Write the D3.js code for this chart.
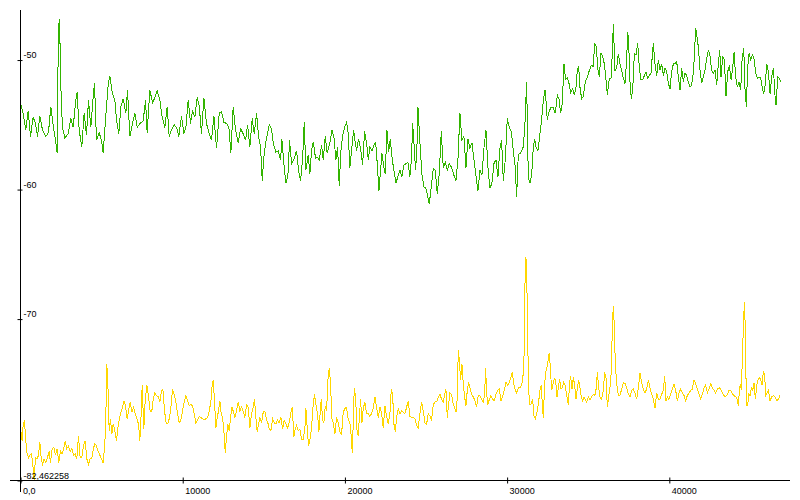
<!DOCTYPE html>
<html>
<head>
<meta charset="utf-8">
<script src="https://cdn.jsdelivr.net/npm/d3@7"></script>
<style>
  body { margin: 0; background: #fff; }
  svg { display: block; }
  .axis text { font-family: "Liberation Sans", Arial, sans-serif; font-size: 9px; fill: #000; }
</style>
</head>
<body>
<svg id="chart"></svg>
<script>
  const width = 800,
        height = 500;

  // [time, level] pairs
  const greenSeries = [[0,-53.3],[162,-54.1],[327,-55.4],[471,-53.9],[615,-55.9],[779,-54.4],[923,-54.9],[1047,-55.9],[1190,-54.3],[1355,-55.4],[1560,-55.9],[1725,-55.6],[1869,-53.6],[2012,-55.0],[2218,-56.7],[2259,-57.2],[2321,-49.5],[2382,-46.8],[2444,-49.0],[2506,-52.9],[2588,-55.2],[2732,-56.0],[2937,-55.7],[3102,-54.5],[3246,-55.2],[3410,-53.1],[3492,-52.5],[3616,-55.4],[3780,-56.7],[3924,-54.1],[4068,-55.8],[4192,-53.1],[4335,-55.2],[4479,-52.9],[4562,-51.8],[4685,-56.2],[4849,-55.6],[4993,-56.2],[5096,-57.2],[5260,-54.3],[5404,-51.9],[5507,-51.2],[5651,-52.5],[5815,-53.1],[5918,-54.6],[6062,-55.7],[6186,-53.6],[6329,-53.0],[6494,-54.1],[6597,-52.3],[6741,-55.9],[6905,-54.9],[7049,-54.1],[7193,-55.2],[7357,-54.9],[7563,-54.7],[7707,-53.1],[7809,-55.6],[7974,-52.3],[8139,-53.3],[8282,-52.9],[8426,-52.4],[8591,-53.1],[8735,-54.4],[8899,-55.2],[9043,-53.6],[9166,-55.9],[9310,-55.4],[9474,-55.0],[9618,-55.2],[9762,-55.9],[9927,-54.3],[10071,-55.7],[10194,-55.2],[10338,-53.1],[10482,-54.9],[10605,-53.9],[10749,-54.4],[10893,-52.9],[11016,-53.5],[11160,-55.7],[11304,-52.9],[11468,-54.9],[11633,-55.7],[11777,-56.2],[11921,-54.3],[12085,-56.8],[12250,-54.1],[12394,-54.0],[12538,-54.8],[12702,-54.9],[12846,-55.2],[12969,-57.2],[13113,-53.6],[13257,-55.4],[13422,-56.4],[13566,-55.3],[13730,-55.7],[13874,-56.2],[13997,-55.0],[14141,-56.7],[14285,-54.5],[14409,-55.7],[14553,-54.1],[14676,-55.9],[14799,-56.7],[14902,-59.3],[15005,-57.5],[15128,-56.3],[15272,-55.4],
    [15333,-55.0],[15477,-55.3],[15580,-56.4],[15745,-57.1],[15888,-57.0],[16032,-57.7],[16114,-56.1],[16238,-58.0],[16361,-59.5],[16484,-58.9],[16587,-56.2],[16710,-58.0],[16854,-57.7],[17019,-57.0],[17142,-58.5],[17266,-59.3],[17389,-57.7],[17492,-54.8],[17595,-58.5],[17738,-57.3],[17841,-58.8],[17944,-57.0],[18047,-56.3],[18191,-57.6],[18293,-57.5],[18417,-57.7],[18561,-56.6],[18663,-57.7],[18787,-55.9],[18910,-57.2],[19075,-56.4],[19198,-55.4],[19321,-55.9],[19445,-57.7],[19548,-56.7],[19650,-59.7],[19753,-57.0],[19856,-55.9],[19979,-55.2],[20103,-54.8],[20205,-55.7],[20308,-58.3],[20431,-56.7],[20534,-55.4],[20637,-56.4],[20719,-57.0],[20843,-56.1],[20966,-56.8],[21089,-58.1],[21213,-55.5],[21336,-56.4],[21439,-57.7],[21541,-56.7],[21665,-57.0],[21788,-56.6],[21891,-56.3],[21994,-58.0],[22097,-60.1],[22199,-58.5],[22282,-57.2],[22405,-58.3],[22487,-58.8],[22590,-55.4],[22693,-57.1],[22795,-56.1],[22919,-57.7],[23022,-58.5],[23145,-59.5],[23268,-59.0],[23392,-58.5],[23515,-59.0],[23638,-58.1],[23762,-58.0],[23885,-57.9],[24008,-59.0],[24111,-57.5],[24173,-54.9],[24255,-56.4],[24358,-58.5],[24440,-56.8],[24502,-53.6],[24625,-56.4],[24748,-58.8],[24872,-59.8],[24995,-59.9],[25118,-60.6],[25200,-61.1],[25324,-59.8],[25447,-58.4],[25570,-58.5],[25694,-60.3],[25817,-58.8],[25940,-55.5],[26064,-58.3],[26187,-57.9],[26310,-58.5],[26434,-58.0],[26578,-58.3],[26722,-58.9],[26845,-59.3],[26968,-57.7],[27092,-54.1],[27215,-56.2],[27338,-55.9],[27462,-58.3],[27585,-56.1],[27708,-56.8],[27832,-56.4],[27955,-57.7],[28078,-58.9],[28202,-60.1],[28325,-58.5],[28448,-58.9],[28572,-56.8],[28695,-55.4],[28818,-58.3],[28942,-59.9],[29065,-59.5],[29188,-58.0],[29312,-57.7],[29435,-59.0],[29558,-56.8],[29661,-56.2],[29764,-59.3],[29887,-57.7],[30011,-54.5],[30134,-55.2],[30257,-55.5],[30381,-57.0],[30504,-58.3],[30586,-60.6],[30689,-57.3],[30833,-57.2],[30997,-56.7],[31100,-54.9],[31162,-53.0],[31203,-51.7],[31306,-59.1],[31409,-59.5],
    [31511,-58.9],[31614,-56.7],[31696,-56.1],[31779,-56.7],[31902,-57.0],[32025,-55.7],[32128,-54.6],[32231,-53.1],[32334,-52.3],[32395,-53.1],[32477,-54.6],[32560,-54.1],[32683,-53.7],[32847,-53.7],[32971,-54.1],[33094,-52.7],[33197,-53.0],[33300,-54.1],[33402,-53.3],[33505,-50.3],[33608,-51.5],[33711,-51.4],[33814,-51.8],[33916,-52.5],[34040,-52.2],[34143,-52.7],[34245,-52.1],[34328,-50.8],[34410,-50.5],[34492,-52.1],[34595,-53.0],[34698,-52.8],[34821,-51.7],[34945,-51.3],[35068,-50.8],[35191,-50.4],[35315,-50.5],[35397,-48.7],[35500,-49.0],[35603,-50.8],[35685,-51.3],[35788,-49.5],[35890,-49.7],[35993,-50.3],[36096,-51.5],[36178,-52.7],[36302,-51.4],[36405,-51.4],[36487,-49.5],[36548,-47.2],[36651,-50.8],[36754,-50.6],[36857,-49.5],[36960,-50.3],[37062,-50.8],[37165,-51.4],[37268,-51.8],[37371,-50.0],[37433,-47.8],[37494,-48.7],[37576,-51.7],[37659,-53.0],[37741,-52.3],[37844,-49.5],[37947,-49.6],[38050,-48.7],[38152,-50.6],[38255,-51.5],[38358,-51.5],[38461,-51.2],[38563,-50.9],[38666,-51.4],[38769,-51.2],[38872,-51.0],[38954,-49.6],[39015,-48.7],[39118,-50.3],[39221,-51.2],[39324,-50.0],[39426,-50.8],[39529,-50.3],[39632,-51.2],[39735,-50.6],[39837,-50.9],[39940,-51.8],[40043,-52.2],[40146,-50.9],[40248,-50.3],[40351,-50.3],[40454,-50.1],[40557,-51.3],[40659,-52.3],[40762,-50.6],[40865,-51.7],[40968,-51.0],[41071,-51.2],[41173,-51.7],[41276,-52.1],[41379,-51.9],[41482,-51.0],[41543,-49.7],[41625,-47.5],[41708,-48.2],[41790,-49.0],[41893,-50.8],[41995,-51.8],[42098,-51.3],[42201,-50.8],[42304,-49.9],[42407,-49.2],[42509,-49.7],[42612,-50.8],[42715,-51.0],[42818,-50.8],[42921,-51.9],[43023,-50.3],[43106,-49.2],[43188,-51.3],[43291,-49.7],[43394,-50.0],[43497,-52.8],[43599,-50.9],[43702,-50.4],[43805,-51.5],[43908,-50.6],[43990,-49.4],[44093,-51.3],[44196,-52.1],[44299,-51.7],[44401,-52.3],[44484,-50.0],[44587,-49.1],[44669,-52.3],[44751,-53.6],[44833,-50.5],[44916,-49.5],[45018,-50.0],[45121,-49.6],[45224,-49.9],[45327,-51.0],[45430,-51.4],[45532,-51.3],[45635,-51.4],[45738,-52.2],[45820,-52.6],[45922,-51.8],[46005,-50.3],[46107,-50.9],[46210,-52.6],[46313,-51.3],[46416,-50.6],[46519,-52.8],[46580,-53.5],[46683,-51.3],[46786,-51.4],[46889,-51.7]];

  const yellowSeries = [[0,-78.4],[18,-78.6],[101,-79.4],[162,-78.2],[245,-77.8],[327,-79.4],[409,-80.4],[491,-80.7],[574,-80.5],[676,-80.4],[759,-81.2],[841,-82.462258],[923,-80.7],[1026,-80.8],[1108,-80.5],[1190,-79.5],[1273,-80.7],[1355,-81.2],[1458,-80.8],[1560,-81.1],[1663,-80.7],[1766,-80.2],[1848,-81.1],[1951,-80.0],[2054,-79.9],[2157,-80.5],[2259,-80.0],[2362,-81.1],[2465,-80.2],[2567,-80.4],[2670,-80.0],[2753,-79.4],[2855,-80.0],[2958,-79.8],[3061,-80.2],[3164,-80.0],[3266,-80.5],[3369,-80.4],[3472,-80.8],[3575,-79.0],[3677,-80.7],[3780,-80.7],[3883,-79.8],[3986,-79.4],[4089,-80.8],[4192,-81.2],[4294,-80.8],[4397,-80.7],[4500,-80.0],[4582,-79.6],[4685,-79.8],[4788,-80.2],[4890,-80.5],[4993,-80.8],[5096,-81.1],[5199,-79.6],[5260,-77.6],[5322,-73.5],[5384,-74.9],[5466,-78.6],[5548,-77.7],[5630,-78.9],[5713,-78.1],[5815,-78.6],[5918,-79.4],[6001,-78.4],[6083,-77.8],[6186,-77.2],[6288,-76.8],[6391,-76.3],[6473,-76.7],[6576,-77.7],[6659,-77.1],[6761,-76.4],[6864,-77.2],[6967,-76.8],[7069,-77.3],[7172,-77.7],[7275,-78.1],[7357,-79.4],[7439,-77.3],[7501,-75.1],[7604,-78.5],[7686,-76.3],[7789,-75.1],[7892,-76.0],[7994,-77.1],[8097,-77.1],[8179,-76.2],[8282,-75.7],[8385,-75.9],[8488,-76.0],[8591,-76.4],[8694,-75.5],[8776,-75.4],[8879,-77.1],[8981,-78.0],[9084,-78.1],[9187,-77.6],[9289,-76.6],[9372,-75.4],[9474,-75.8],[9577,-76.4],[9680,-77.3],[9783,-78.0],[9886,-77.8],[9989,-77.1],[10091,-76.4],[10194,-75.9],[10297,-76.3],[10399,-76.7],[10502,-76.6],[10605,-76.7],[10708,-77.3],[10811,-78.0],[10913,-77.8],[11016,-77.5],[11119,-77.6],[11222,-77.7],[11324,-77.8],[11427,-77.7],[11530,-77.6],[11633,-77.1],[11736,-76.4],[11797,-75.3],[11880,-74.7],[11962,-76.3],[12044,-78.4],[12127,-77.6],[12209,-77.1],[12291,-76.3],[12373,-77.3],[12456,-77.6],[12538,-78.6],[12620,-80.3],[12702,-79.1],[12784,-78.1],[12867,-78.6],[12949,-77.6],[13031,-76.8],[13113,-77.1],[13216,-77.6],[13319,-77.1],[13422,-76.4],[13524,-77.1],[13627,-76.8],[13730,-77.1],[13833,-77.6],[13935,-76.6],[14038,-76.8],[14141,-78.4],[14244,-77.3],[14347,-76.8],[14429,-76.2],[14511,-77.6],[14593,-78.7],[14676,-78.1],[14758,-77.6],[14861,-78.0],[14963,-77.2],[15066,-77.1],[15169,-77.8],[15272,-78.1],
    [15333,-78.5],[15436,-78.6],[15539,-77.7],[15642,-78.0],[15745,-78.1],[15847,-77.8],[15950,-78.0],[16053,-77.6],[16156,-78.5],[16259,-77.8],[16362,-78.1],[16464,-78.4],[16567,-78.0],[16670,-77.2],[16752,-76.8],[16855,-79.1],[16937,-78.5],[17019,-78.2],[17122,-78.6],[17225,-78.5],[17328,-79.3],[17430,-79.3],[17533,-78.4],[17595,-76.9],[17677,-78.4],[17759,-79.8],[17842,-79.3],[17944,-78.4],[18047,-76.6],[18129,-75.8],[18212,-76.6],[18314,-77.3],[18397,-78.7],[18479,-77.1],[18541,-76.2],[18623,-77.8],[18705,-78.0],[18787,-76.7],[18869,-77.1],[18952,-74.7],[19034,-73.8],[19116,-75.0],[19198,-77.7],[19281,-78.0],[19383,-78.9],[19486,-77.6],[19589,-78.0],[19692,-78.7],[19794,-78.9],[19897,-77.2],[20000,-76.9],[20103,-76.8],[20206,-77.8],[20308,-78.0],[20391,-79.1],[20452,-80.3],[20514,-78.1],[20576,-75.3],[20658,-76.0],[20740,-78.5],[20822,-79.0],[20905,-77.3],[20966,-76.2],[21048,-78.0],[21131,-76.9],[21233,-76.4],[21336,-77.3],[21439,-77.3],[21542,-77.5],[21645,-77.3],[21747,-76.9],[21850,-76.0],[21953,-76.8],[22056,-77.6],[22158,-76.8],[22261,-77.3],[22364,-78.4],[22467,-76.7],[22570,-77.5],[22672,-78.1],[22775,-77.3],[22857,-75.4],[22940,-75.8],[23022,-78.1],[23104,-78.7],[23186,-77.6],[23289,-76.9],[23392,-77.3],[23495,-77.1],[23597,-77.2],[23700,-77.3],[23803,-76.8],[23906,-76.3],[24009,-77.5],[24111,-77.6],[24214,-77.6],[24317,-77.7],[24420,-78.2],[24522,-78.4],[24625,-77.3],[24728,-76.4],[24831,-77.1],[24934,-78.0],[25037,-78.1],[25139,-77.3],[25242,-77.5],[25345,-77.8],[25448,-76.6],[25550,-76.4],[25653,-76.4],[25756,-76.0],[25859,-75.8],[25962,-76.2],[26064,-76.4],[26167,-75.7],[26229,-75.4],[26311,-77.6],[26393,-76.6],[26475,-75.7],[26578,-75.8],[26681,-76.6],[26784,-76.9],[26866,-77.2],[26928,-76.0],[26989,-72.4],[27051,-73.1],[27133,-74.7],[27216,-73.5],[27298,-75.0],[27380,-76.0],[27462,-76.7],[27545,-75.5],[27627,-74.9],[27709,-75.3],[27812,-75.8],[27914,-76.0],[28017,-76.3],[28120,-76.8],[28223,-75.9],[28326,-75.9],[28428,-76.2],[28531,-76.4],[28613,-75.8],[28675,-73.8],[28737,-75.8],[28819,-76.6],[28901,-76.2],[29004,-75.9],[29107,-76.2],[29210,-76.3],[29312,-75.8],[29415,-75.5],[29518,-75.4],[29621,-76.3],[29723,-76.0],[29826,-75.5],[29929,-74.9],[30032,-75.1],[30135,-74.9],[30237,-74.5],[30320,-74.1],[30402,-75.0],[30484,-75.4],[30587,-75.7],[30690,-75.3],[30793,-75.3],[30895,-75.1],[30978,-74.4],[31039,-73.2],[31101,-67.3],[31162,-65.2],[31224,-67.8],[31286,-72.7],[31347,-75.8],[31409,-76.6],
    [31470,-76.6],[31573,-76.2],[31655,-77.5],[31738,-77.7],[31820,-77.3],[31923,-76.6],[32025,-75.5],[32108,-75.1],[32169,-76.6],[32231,-77.6],[32313,-75.0],[32396,-74.0],[32478,-73.6],[32561,-72.9],[32601,-72.6],[32663,-73.7],[32745,-75.5],[32827,-75.0],[32909,-74.6],[32992,-74.7],[33074,-76.0],[33156,-75.3],[33238,-74.6],[33321,-75.4],[33403,-75.3],[33485,-74.9],[33567,-75.1],[33670,-75.8],[33773,-76.6],[33855,-74.9],[33917,-74.4],[33999,-75.4],[34081,-74.5],[34163,-75.1],[34246,-76.2],[34328,-75.4],[34410,-74.7],[34492,-75.3],[34574,-76.0],[34657,-76.3],[34739,-76.0],[34821,-76.2],[34903,-76.4],[35006,-76.0],[35109,-76.2],[35212,-76.0],[35315,-75.8],[35417,-75.9],[35500,-75.3],[35561,-74.1],[35643,-75.3],[35726,-76.0],[35828,-76.2],[35931,-75.5],[36013,-74.1],[36096,-74.5],[36178,-76.8],[36260,-76.0],[36342,-75.3],[36425,-74.0],[36486,-70.6],[36548,-69.0],[36610,-70.6],[36671,-73.5],[36754,-75.0],[36856,-75.9],[36959,-75.9],[37062,-75.4],[37165,-74.9],[37288,-75.0],[37370,-75.3],[37473,-75.8],[37576,-76.0],[37679,-75.5],[37781,-75.4],[37884,-75.7],[37987,-76.2],[38090,-75.3],[38193,-74.2],[38295,-74.9],[38398,-75.4],[38501,-75.7],[38604,-75.4],[38706,-74.7],[38809,-75.3],[38912,-75.8],[39015,-76.2],[39118,-76.9],[39220,-75.7],[39323,-76.2],[39426,-76.2],[39529,-75.8],[39632,-75.5],[39714,-74.4],[39796,-76.3],[39878,-76.0],[39981,-76.2],[40084,-75.8],[40187,-75.4],[40289,-75.0],[40392,-75.5],[40495,-76.3],[40598,-75.7],[40700,-75.4],[40803,-75.7],[40906,-75.9],[41009,-76.3],[41112,-75.9],[41214,-75.7],[41317,-75.5],[41420,-75.4],[41523,-74.7],[41626,-75.0],[41728,-75.4],[41831,-75.8],[41934,-76.2],[42037,-75.8],[42139,-75.3],[42242,-75.1],[42345,-75.7],[42448,-75.4],[42551,-75.0],[42653,-75.3],[42756,-75.5],[42859,-75.7],[42962,-75.4],[43065,-75.3],[43167,-75.4],[43270,-75.7],[43373,-75.9],[43476,-76.0],[43579,-75.8],[43681,-75.5],[43784,-75.5],[43887,-75.8],[43990,-75.9],[44092,-76.0],[44195,-76.2],[44257,-76.7],[44319,-75.5],[44380,-75.0],[44442,-75.5],[44504,-72.9],[44566,-70.6],[44627,-68.7],[44689,-70.9],[44751,-76.7],[44833,-76.7],[44894,-75.8],[44977,-75.9],[45059,-75.3],[45141,-75.5],[45223,-74.9],[45306,-76.2],[45388,-75.1],[45470,-74.7],[45552,-74.5],[45635,-74.7],[45717,-75.1],[45799,-74.0],[45881,-74.4],[45943,-75.9],[46025,-75.7],[46107,-75.5],[46210,-76.3],[46313,-76.0],[46415,-75.9],[46518,-76.0],[46621,-76.3],[46724,-76.2],[46826,-75.9]];

  const xTicks = [0, 10000, 20000, 30000, 40000],
        yTicks = [-50, -60, -70],
        yMin = -82.462258,
        yMax = -46.135,
        xMax = 47440;

  let x = d3.scaleLinear()
            .domain([0, xMax])
            .range([20.5, 790]);

  let y = d3.scaleLinear()
            .domain([yMin, yMax])
            .range([480.5, 10]);

  let chart = d3.select("#chart")
                .attr("width", width)
                .attr("height", height);

  let line = d3.line()
               .x((d) => { return x(d[0]); })
               .y((d) => { return y(d[1]); });

  // Data lines
  chart.append("path")
       .datum(greenSeries)
       .attr("d", line)
       .style("fill", "none")
       .style("stroke", "#33b400")
       .style("stroke-width", 1)
       .style("shape-rendering", "crispEdges");

  chart.append("path")
       .datum(yellowSeries)
       .attr("d", line)
       .style("fill", "none")
       .style("stroke", "#ffd700")
       .style("stroke-width", 1)
       .style("shape-rendering", "crispEdges");

  // Axis lines (they run a little past the origin, like the original)
  chart.append("line")
       .attr("x1", 10).attr("x2", 790)
       .attr("y1", 480.5).attr("y2", 480.5)
       .attr("stroke", "#000");

  chart.append("line")
       .attr("x1", 20.5).attr("x2", 20.5)
       .attr("y1", 10).attr("y2", 492)
       .attr("stroke", "#000");

  // x-Axis ticks and labels
  let xAxis = chart.append("g")
       .attr("class", "axis")
       .attr("transform", "translate(0,480.5)")
       .call(d3.axisBottom(x)
               .tickValues(xTicks)
               .tickSizeOuter(0)
               .tickFormat((d) => { return d === 0 ? "0,0" : String(d); }));
  xAxis.select(".domain").remove();
  xAxis.selectAll(".tick line").attr("y1", -3).attr("y2", 3).attr("stroke", "#000");
  xAxis.selectAll(".tick text")
       .attr("text-anchor", "start")
       .attr("x", 2)
       .attr("y", 13)
       .attr("dy", null);

  // y-Axis ticks and labels, with the bottom value written out
  let yAxis = chart.append("g")
       .attr("class", "axis")
       .attr("transform", "translate(20.5,0)")
       .call(d3.axisLeft(y)
               .tickValues(yTicks.concat([yMin]))
               .tickSizeOuter(0)
               .tickFormat((d) => { return String(d).replace(".", ","); }));
  yAxis.select(".domain").remove();
  yAxis.selectAll(".tick line").attr("x1", -3).attr("x2", 2).attr("stroke", "#000");
  yAxis.selectAll(".tick text")
       .attr("text-anchor", "start")
       .attr("x", 3)
       .attr("y", -2.5)
       .attr("dy", null);
</script>
</body>
</html>
